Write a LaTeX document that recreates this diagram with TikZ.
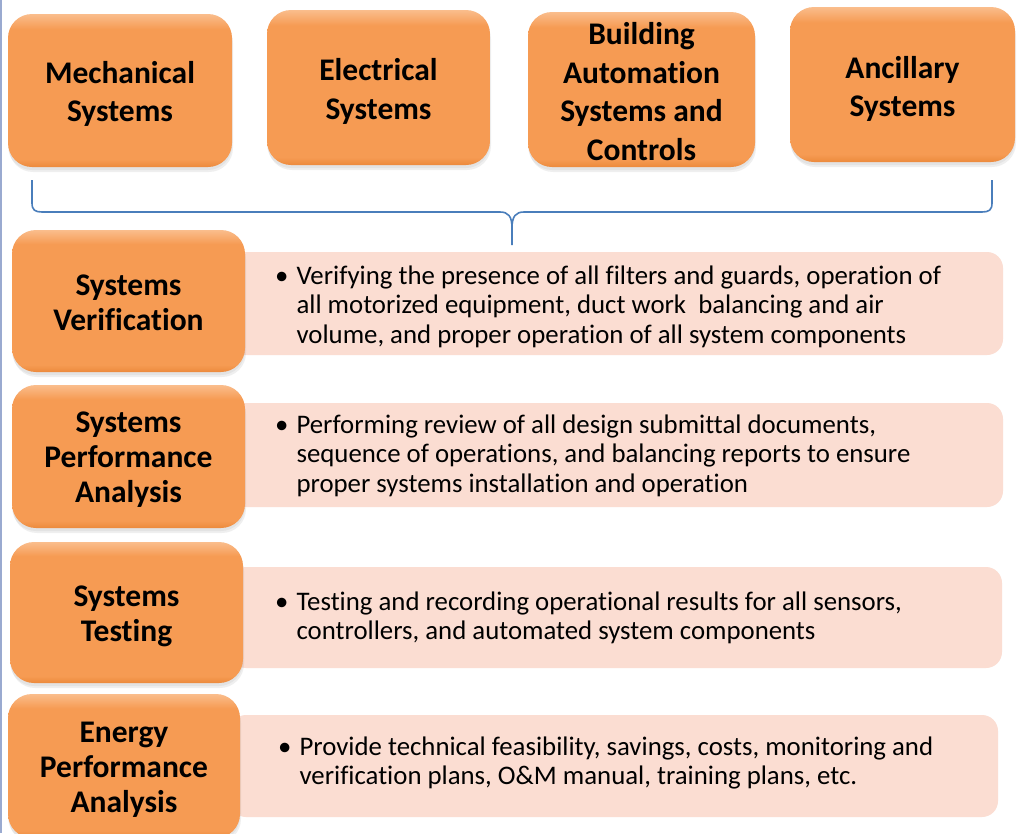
\documentclass[tikz,border=0pt]{standalone}
\usepackage{fontspec}
\setmainfont{Carlito}[Ligatures=NoCommon]
\usetikzlibrary{shadows}
\definecolor{ormid}{HTML}{F69B53}
\definecolor{ortop}{HTML}{FABD8C}
\definecolor{orbot}{HTML}{EC8A3C}
\definecolor{pinkfill}{HTML}{FBDDD2}
\definecolor{bracecol}{HTML}{4A7EBB}
\definecolor{edgeline}{HTML}{9AAAD0}
\pgfdeclareverticalshading{orbevel}{100bp}{color(0bp)=(orbot); color(25bp)=(orbot); color(27.5bp)=(ormid); color(70bp)=(ormid); color(75bp)=(ortop); color(100bp)=(ortop)}
\newcommand\topfont{\fontsize{31.5}{38.5}\selectfont\bfseries}
\newcommand\leftfont{\fontsize{31.5}{35}\selectfont\bfseries}
\newcommand\bulfont{\fontsize{26.8}{29.5}\selectfont}
\tikzset{
  orbox/.style={rectangle, rounded corners=24pt, shading=orbevel, draw=none,
    inner sep=0pt,
    drop shadow={opacity=0.12, shadow xshift=1pt, shadow yshift=-5pt},
    drop shadow={opacity=0.10, shadow xshift=0pt, shadow yshift=-3pt}},
  toptext/.style={inner sep=0pt, align=center, text=black, font=\topfont},
  lefttext/.style={inner sep=0pt, align=center, text=black, font=\leftfont},
  pinkbox/.style={rectangle, rounded corners=16pt, fill=pinkfill, draw=none, inner sep=0pt},
  bultext/.style={anchor=west, inner sep=0pt, align=left, font=\bulfont, text=black},
  brace/.style={draw=bracecol, line width=1.6pt}
}
\newcommand\bul[1]{\begin{tabular}{@{}l@{\hspace{8pt}}l@{}}\textbullet & #1\end{tabular}}
\begin{document}
\begin{tikzpicture}[x=1pt,y=-1pt]
\useasboundingbox (0,0) rectangle (1019,833);
\clip (0,0) rectangle (1019,833);
\fill[white] (0,0) rectangle (1019,833);
\draw[edgeline, line width=2pt] (1,0) -- (1,833);

% top boxes
\node[orbox, minimum width=224pt, minimum height=153pt] (mech) at (120,90.5) {};
\node[orbox, minimum width=223pt, minimum height=155pt] (elec) at (378.5,87.5) {};
\node[orbox, minimum width=227pt, minimum height=155pt] (bas) at (641.5,89.5) {};
\node[orbox, minimum width=225pt, minimum height=155pt] (anc) at (902.5,84.5) {};
\node[toptext] (mecht) at ([yshift=-3.5pt]mech.center) {Mechanical\\Systems};
\node[toptext] (elect) at ([yshift=-4pt]elec.center) {Electrical\\Systems};
\node[toptext] (bast) at ([yshift=-2pt]bas.center) {Building\\Automation\\Systems and\\Controls};
\node[toptext] (anct) at ([yshift=-4.5pt]anc.center) {Ancillary\\Systems};

% brace
\coordinate (bl) at (32,180);
\coordinate (br) at (992,180);
\coordinate (bt) at (512,245);
\coordinate (bm) at (512,228);
\draw[brace] (bl) -- (32,203) .. controls (32,210) and (35,212) .. (42,212)
  -- (500,212) .. controls (508,212) and (512,216) .. (bm) -- (bt);
\draw[brace] (bm) .. controls (512,216) and (516,212) .. (524,212)
  -- (982,212) .. controls (989,212) and (992,210) .. (992,203) -- (br);

% pink boxes
\node[pinkbox, minimum width=773pt, minimum height=103pt] (p1) at (616.5,303.5) {};
\node[pinkbox, minimum width=773pt, minimum height=104pt] (p2) at (616.5,455) {};
\node[pinkbox, minimum width=772pt, minimum height=101pt] (p3) at (616,617.5) {};
\node[pinkbox, minimum width=768pt, minimum height=102pt] (p4) at (614,766) {};

% left boxes
\node[orbox, minimum width=233pt, minimum height=142pt] (sv) at (128.5,301) {};
\node[orbox, minimum width=233pt, minimum height=143pt] (spa) at (128.5,456.5) {};
\node[orbox, minimum width=233pt, minimum height=141pt] (st) at (126.5,612.5) {};
\node[orbox, minimum width=232pt, minimum height=144pt] (epa) at (124,766) {};
\node[lefttext] (svt) at ([yshift=-1.5pt]sv.center) {Systems\\Verification};
\node[lefttext] (spat) at ([yshift=-3.5pt]spa.center) {Systems\\Performance\\Analysis};
\node[lefttext] (stt) at ([yshift=-4pt]st.center) {Systems\\Testing};
\node[lefttext] (epat) at ([yshift=-4pt]epa.center) {Energy\\Performance\\Analysis};

% bullet texts
\node[bultext] (t1) at (275,308) {\bul{Verifying the presence of all filters and guards, operation of\\ & all motorized equipment, duct work\ \ balancing and air\\ & volume, and proper operation of all system components}};
\node[bultext] (t2) at (275,457) {\bul{Performing review of all design submittal documents,\\ & sequence of operations, and balancing reports to ensure\\ & proper systems installation and operation}};
\node[bultext] (t3) at (275,619) {\bul{Testing and recording operational results for all sensors,\\ & controllers, and automated system components}};
\node[bultext] (t4) at (278,764) {\bul{Provide technical feasibility, savings, costs, monitoring and\\ & verification plans, O\&M manual, training plans, etc.}};
\end{tikzpicture}
\end{document}
